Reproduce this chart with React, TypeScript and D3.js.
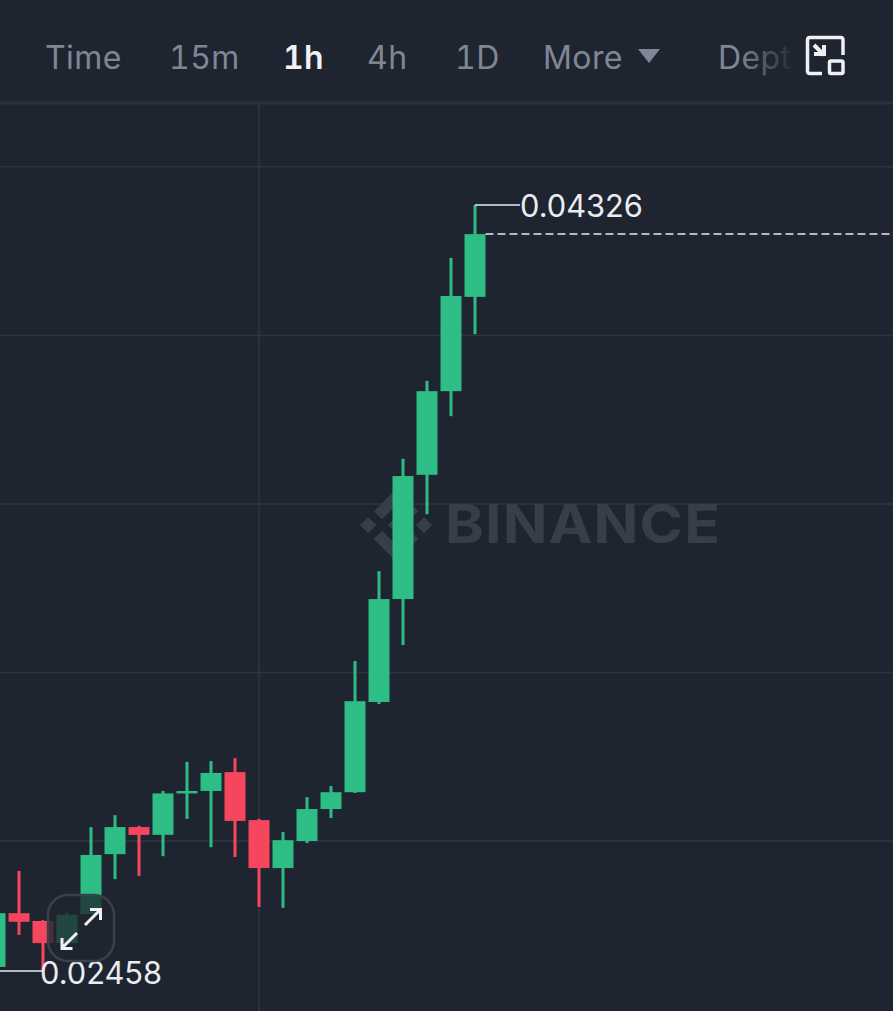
import React from "react";
import * as d3 from "d3";

const opens = [0.02468, 0.02599, 0.0258, 0.02526, 0.02597, 0.02743, 0.02809, 0.0279, 0.02891, 0.02897, 0.02943, 0.02826, 0.02709, 0.02775, 0.02853, 0.02894, 0.03114, 0.03365, 0.03668, 0.03872, 0.04102];
const highs = [0.02599, 0.02702, 0.02582, 0.02599, 0.02809, 0.02838, 0.02812, 0.02897, 0.02968, 0.0297, 0.02977, 0.02829, 0.02797, 0.02882, 0.02909, 0.03214, 0.03433, 0.03707, 0.03897, 0.04197, 0.04326];
const lows = [0.02468, 0.02546, 0.02458, 0.02526, 0.02597, 0.02682, 0.0269, 0.02738, 0.02829, 0.0276, 0.02736, 0.02614, 0.02612, 0.0277, 0.02831, 0.02892, 0.03109, 0.03253, 0.03572, 0.03811, 0.04011];
const closes = [0.02599, 0.02578, 0.02526, 0.02595, 0.02741, 0.02809, 0.0279, 0.02891, 0.02897, 0.02941, 0.02824, 0.02709, 0.02777, 0.02853, 0.02894, 0.03116, 0.03365, 0.03665, 0.03872, 0.04104, 0.04255];

const gridPrices = [0.04419, 0.04008, 0.03597, 0.03186, 0.02775];
const gridIndex = [11];
const highLabel = "0.04326";
const lowLabel = "0.02458";

const tabs = ["Time", "15m", "1h", "4h", "1D", "More"];
const tabX = [45, 169, 283, 367, 455, 543];
const activeTab = "1h";

const GREEN = "#2ebd85";
const RED = "#f6465d";
const BG = "#1f2530";
const GRID = "#2f3540";
const FONT = "Inter, 'Noto Sans', sans-serif";

const width = 893;
const height = 1011;

const logoPaths = [
  "M38.73 53.2 63.32 28.62 87.92 53.22 102.23 38.92 63.32 0 24.42 38.9Z",
  "M0 63.31 14.3 49 28.61 63.31 14.31 77.61Z",
  "M38.73 73.41 63.32 98 87.92 73.4 102.23 87.69 63.32 126.6 24.41 87.72 24.39 87.7Z",
  "M98 63.31 112.3 49 126.61 63.3 112.3 77.62Z",
  "M77.83 63.3 63.32 48.78 48.81 63.28 63.32 77.78Z",
];

export default function App() {
  const x = d3.scaleLinear().domain([0, 20]).range([-5, 475]);
  const y = d3.scaleLinear().domain([0.04326, 0.02458]).range([205, 971]);
  const bodyW = 21;
  const wickW = 3;

  const candles = d3.range(opens.length).map((i) => ({
    i,
    open: opens[i],
    high: highs[i],
    low: lows[i],
    close: closes[i],
    up: closes[i] >= opens[i],
  }));

  const last = candles[candles.length - 1];
  const lowest = candles[d3.minIndex(lows)];
  const highest = candles[d3.maxIndex(highs)];

  return (
    <svg
      width={width}
      height={height}
      viewBox={`0 0 ${width} ${height}`}
      style={{ position: "absolute", left: 0, top: 0, display: "block" }}
    >
      <defs>
        <linearGradient id="fadeDepth" gradientUnits="userSpaceOnUse" x1="738" x2="796" y1="0" y2="0">
          <stop offset="0" stopColor="#7f8794" />
          <stop offset="1" stopColor="#7f8794" stopOpacity="0" />
        </linearGradient>
      </defs>
      <rect width={width} height={height} fill={BG} />

      {/* tabs */}
      <g fontFamily={FONT} fontSize={32} letterSpacing={0.4} style={{ fontFeatureSettings: "'tnum'" }}>
        {tabs.map((t, i) => (
          <text
            key={t}
            x={tabX[i]}
            y={69}
            fill={t === activeTab ? "#f0f1f3" : "#7f8794"}
            fontWeight={t === activeTab ? 600 : 400}
          >
            {t}
          </text>
        ))}
        <text x={718} y={69} fill="url(#fadeDepth)">
          Depth
        </text>
      </g>
      <path d="M638 49H660L649 63Z" fill="#7f8794" />

      <g fill="none" stroke="#eef0f2" strokeWidth={3.5}>
        <path d="M822 73.5H810Q807.5 73.5 807.5 71V40Q807.5 37.5 810 37.5H840.5Q843 37.5 843 40V55" />
        <rect x={829.5} y={61} width={13.5} height={12.5} rx={1.5} />
        <path d="M814 45 824 55M824 45V54H814" strokeWidth={4} />
      </g>

      {/* grid */}
      <rect x={0} y={101.5} width={width} height={3} fill="#2b313c" />
      {gridPrices.map((p) => (
        <line key={p} x1={0} x2={width} y1={y(p)} y2={y(p)} stroke={GRID} strokeWidth={1.5} />
      ))}
      {gridIndex.map((g) => (
        <line key={g} x1={x(g)} x2={x(g)} y1={104} y2={height} stroke={GRID} strokeWidth={1.5} />
      ))}

      {/* watermark */}
      <g transform="translate(360 489) scale(0.57)" fill="#373d49">
        {logoPaths.map((d) => (
          <path key={d} d={d} />
        ))}
      </g>
      <text
        transform="translate(445 543) scale(1.09 1)"
        fontFamily={FONT}
        fontSize={54}
        fontWeight={700}
        fill="#373d49"
        letterSpacing={1}
      >
        BINANCE
      </text>

      {/* candles */}
      {candles.map((c) => {
        const color = c.up ? GREEN : RED;
        const top = y(Math.max(c.open, c.close));
        const bottom = y(Math.min(c.open, c.close));
        return (
          <g key={c.i} fill={color}>
            <rect x={x(c.i) - wickW / 2} y={y(c.high)} width={wickW} height={y(c.low) - y(c.high)} />
            <rect x={x(c.i) - bodyW / 2} y={top} width={bodyW} height={Math.max(bottom - top, 1)} />
          </g>
        );
      })}

      {/* last price */}
      <line
        x1={x(last.i) + bodyW / 2}
        x2={width}
        y1={y(last.close)}
        y2={y(last.close)}
        stroke="#e8eaed"
        strokeWidth={1.5}
        strokeDasharray="8 4"
      />

      {/* high / low labels */}
      <line x1={x(highest.i)} x2={520} y1={y(highest.high)} y2={y(highest.high)} stroke="#e8eaed" strokeWidth={1.5} />
      <line x1={0} x2={x(lowest.i)} y1={y(lowest.low)} y2={y(lowest.low)} stroke="#e8eaed" strokeWidth={1.5} />
      <g fontFamily={FONT} fontSize={30.8} fill="#eaecef">
        <text x={520} y={217}>
          {highLabel}
        </text>
        <text x={40} y={984}>
          {lowLabel}
        </text>
      </g>

      {/* expand button */}
      <rect x={48} y={895} width={66} height={66} rx={20} fill={BG} fillOpacity={0.78} stroke="#3a404c" strokeWidth={2.5} />
      <g fill="none" stroke="#eef0f2" strokeWidth={3}>
        <path d="M85 925 100 910M90 909.5H100.5V920" />
        <path d="M77 933 62 948M62 938V948.5H72.5" />
      </g>
    </svg>
  );
}
